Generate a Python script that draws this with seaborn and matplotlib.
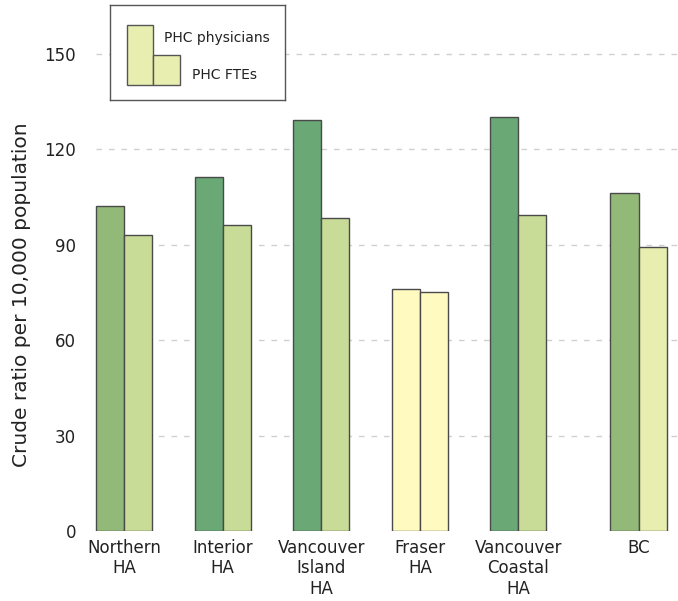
import numpy as np
import pandas as pd
import matplotlib
matplotlib.use("Agg")
import matplotlib.pyplot as plt
from matplotlib.patches import Rectangle
import seaborn as sns

# values
regions = ["Northern\nHA", "Interior\nHA", "Vancouver\nIsland\nHA", "Fraser\nHA",
           "Vancouver\nCoastal\nHA", "BC"]
physicians = [102.2, 111.3, 129.2, 76.1, 130.2, 106.3]
ftes = [93.1, 96.2, 98.4, 75.2, 99.4, 89.3]
series = ["PHC physicians", "PHC FTEs"]

# per-region colours (physicians bar, FTE bar)
phys_colors = ["#93b979", "#6aa876", "#6aa876", "#fffac0", "#6aa876", "#93b979"]
fte_colors = ["#c8dc98", "#c8dc98", "#c8dc98", "#fffac0", "#c8dc98", "#e8eeb0"]

# group positions: BC sits a bit further out
pos = [0, 1, 2, 3, 4, 5.22]

df = pd.DataFrame({
    "pos": pos * 2,
    "value": physicians + ftes,
    "series": [series[0]] * len(regions) + [series[1]] * len(regions),
})

sns.set_style("white")
plt.rcParams['font.family'] = ['DejaVu Sans']

fig = plt.figure(figsize=(6.78, 6.01), dpi=100)
ax = fig.add_axes([90 / 678, (601 - 531) / 601, (678 - 90) / 678, (531 - 22) / 601])

sns.barplot(data=df, x="pos", y="value", hue="series", hue_order=series,
            native_scale=True, width=0.57, dodge=True, ax=ax, legend=False,
            edgecolor="#4a4a4a", linewidth=1.0, saturation=1, zorder=3)

# recolour bars region by region
bars = [p for p in ax.patches]
n = len(regions)
for i, p in enumerate(bars[:n]):
    p.set_facecolor(phys_colors[i])
for i, p in enumerate(bars[n:2 * n]):
    p.set_facecolor(fte_colors[i])

ax.set_xlim(-0.347, 5.62)
ax.set_ylim(0, 160)
ax.set_yticks([0, 30, 60, 90, 120, 150])
ax.set_xticks(pos)
ax.set_xticklabels(regions, fontsize=12, color="#222222", linespacing=1.15)
ax.tick_params(axis="y", labelsize=12, labelcolor="#222222", length=0, pad=10)
ax.tick_params(axis="x", length=0, pad=6)
for s in ax.spines.values():
    s.set_visible(False)

for yv in [30, 60, 90, 120, 150]:
    ax.axhline(yv, xmin=0.01, color="#d0d0d0", linestyle=(0, (4, 5)), linewidth=1.0, zorder=1)

ax.set_xlabel("")
ax.set_ylabel("Crude ratio per 10,000 population", fontsize=14.5, color="#222222")
ax.yaxis.set_label_coords(-0.1, 0.465)

# legend box drawn by hand
lax = fig.add_axes([110 / 678, (601 - 100) / 601, 175 / 678, 95 / 601])
lax.set_xlim(0, 175)
lax.set_ylim(95, 0)
lax.set_xticks([])
lax.set_yticks([])
for s in lax.spines.values():
    s.set_color("#555555")
    s.set_linewidth(1.0)
lax.add_patch(Rectangle((17, 20), 26, 60, facecolor="#e8eeb0", edgecolor="#555555", lw=1))
lax.add_patch(Rectangle((43, 50), 27, 30, facecolor="#e8eeb0", edgecolor="#555555", lw=1))
lax.text(54, 33, series[0], fontsize=10, va="center", color="#222222")
lax.text(82, 70, series[1], fontsize=10, va="center", color="#222222")

fig.savefig("out.png", dpi=100)
